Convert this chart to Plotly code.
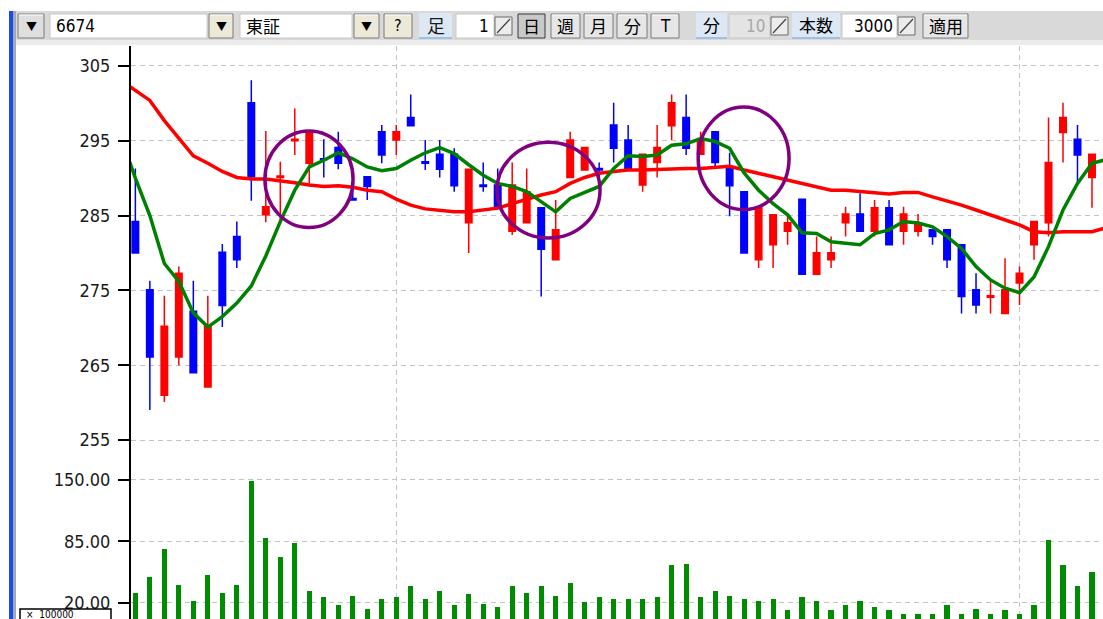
import plotly.graph_objects as go

# ---------------- data ----------------
opens = [284.2, 275.1, 261.0, 266.1, 272.2, 262.1, 280.1, 282.2, 300.1, 285.1,
         290.1, 295.0, 292.0, 292.6, 294.1, 287.3, 290.2, 296.2, 295.1, 298.1,
         292.2, 293.2, 293.2, 284.05, 289.1, 289.1, 282.9, 284.05, 286.05, 279.1,
         290.1, 291.1, 291.3, 297.1, 295.1, 289.1, 292.1, 297.0, 298.1, 293.2,
         296.2, 291.3, 288.2, 279.1, 281.1, 282.9, 287.2, 277.15, 279.1, 284.05,
         285.2, 282.9, 286.05, 282.9, 282.9, 283.1, 283.1, 281.1, 275.1, 274.1,
         271.9, 276.0, 281.1, 284.05, 296.1, 295.2, 290.1]
highs = [291.3, 276.3, 274.3, 278.2, 276.3, 274.3, 281.2, 284.2, 303.1, 296.3,
         292.2, 299.3, 296.2, 295.2, 296.2, 291.3, 290.2, 297.1, 297.1, 301.2,
         295.1, 295.1, 294.0, 291.2, 292.1, 291.3, 292.1, 291.3, 286.05, 287.1,
         296.2, 294.1, 292.1, 300.1, 297.1, 293.2, 297.1, 301.2, 301.2, 296.2,
         296.2, 293.4, 288.2, 286.05, 285.1, 285.1, 287.2, 282.2, 282.2, 286.2,
         288.0, 287.1, 287.1, 286.2, 285.2, 283.1, 283.1, 281.1, 277.3, 276.4,
         279.3, 278.2, 284.2, 298.1, 300.1, 297.1, 293.2]
lows = [280.0, 259.0, 260.1, 265.0, 264.0, 262.1, 270.1, 278.0, 287.0, 284.1,
        284.1, 293.1, 289.3, 290.1, 291.2, 287.0, 287.1, 292.0, 293.1, 297.0,
        291.1, 290.1, 288.2, 280.0, 288.2, 286.2, 282.4, 284.0, 274.2, 279.1,
        290.1, 291.1, 289.0, 292.1, 291.3, 288.2, 290.1, 295.1, 293.1, 293.2,
        291.6, 284.9, 280.0, 278.0, 278.0, 281.1, 277.15, 277.15, 278.0, 282.2,
        282.9, 282.2, 281.1, 281.1, 282.2, 281.1, 278.0, 271.9, 271.9, 271.9,
        271.9, 273.05, 279.1, 282.2, 292.1, 289.1, 286.05]
closes = [280.0, 266.1, 270.2, 277.3, 264.0, 270.2, 273.0, 279.1, 290.2, 286.2,
          290.3, 295.2, 296.2, 292.5, 292.0, 287.1, 288.9, 293.1, 296.2, 297.0,
          292.0, 291.2, 289.0, 291.2, 288.9, 286.2, 289.1, 288.2, 280.5, 283.1,
          295.1, 294.1, 291.1, 294.0, 291.3, 293.2, 294.1, 300.1, 294.0, 295.2,
          292.1, 289.0, 280.0, 286.05, 285.1, 284.05, 277.15, 280.05, 280.05, 285.2,
          282.9, 286.05, 281.1, 285.2, 284.05, 282.2, 279.1, 274.2, 273.05, 274.3,
          275.1, 277.3, 284.2, 292.1, 298.1, 293.1, 293.2]
volume = [30.6, 47.5, 76.9, 39.0, 22.1, 49.3, 30.6, 39.0, 148.6, 88.5,
          68.1, 83.6, 32.4, 25.7, 17.2, 27.1, 13.6, 23.9, 25.7, 37.3,
          23.9, 32.4, 17.2, 28.8, 18.9, 15.4, 37.3, 30.6, 37.3, 27.1,
          40.8, 20.4, 25.7, 23.9, 23.9, 23.9, 25.7, 59.6, 61.3, 25.7,
          32.4, 27.1, 23.9, 22.1, 23.9, 11.9, 25.7, 22.1, 11.9, 17.2,
          22.1, 15.4, 11.9, 8.3, 8.3, 8.3, 17.2, 8.3, 13.6, 8.3,
          11.9, 8.3, 17.2, 86.8, 59.6, 37.3, 52.8]
# moving averages, for sessions -1 .. 67 (the ends run off the visible area)
ma_short = [295.5, 290.0, 285.0, 278.6, 276.2, 272.0, 270.1, 271.5, 273.3, 275.6,
            279.6, 284.2, 288.4, 291.5, 292.4, 293.4, 292.6, 291.5, 291.0, 291.3,
            292.4, 293.4, 294.1, 293.3, 291.8, 290.4, 289.3, 288.9, 288.2, 286.9,
            285.5, 287.3, 288.1, 288.9, 291.3, 293.0, 292.9, 293.1, 294.4, 294.6,
            295.3, 294.9, 294.0, 290.7, 288.4, 286.6, 285.1, 282.7, 282.6, 281.5,
            281.3, 281.1, 282.6, 283.1, 284.2, 284.0, 283.5, 282.2, 280.6, 278.2,
            276.4, 275.3, 274.7, 276.8, 280.85, 285.75, 289.3, 292.0, 292.5]
ma_long = [303.1, 301.8, 300.4, 297.7, 295.4, 293.0, 292.0, 290.9, 290.1, 289.9,
           289.9, 289.7, 289.4, 289.1, 288.9, 289.0, 288.8, 288.4, 288.2, 287.2,
           286.4, 285.9, 285.7, 285.5, 285.5, 285.7, 286.0, 286.6, 287.2, 287.75,
           288.2, 289.3, 290.1, 290.65, 290.9, 291.1, 291.1, 291.2, 291.3, 291.3,
           291.3, 291.45, 291.6, 291.1, 290.65, 290.2, 289.75, 289.3, 288.9, 288.4,
           288.4, 288.2, 288.1, 287.9, 288.1, 288.1, 287.5, 287.0, 286.4, 285.75,
           285.1, 284.4, 283.75, 282.85, 282.7, 282.85, 282.85, 282.85, 283.4]
price_ticks = [255, 265, 275, 285, 295, 305]
volume_ticks = [20, 85, 150]
volume_tick_text = ["20.00", "85.00", "150.00"]
month_breaks = [18, 61]
# highlighted zones: (first session, last session, low price, high price)
circles = [(8.94, 15.02, 283.4, 296.3),
           (24.95, 32.06, 282.0, 294.8),
           (38.83, 45.10, 285.8, 299.5)]

sessions = list(range(len(opens)))
ma_sessions = list(range(-1, len(opens) + 1))

# ---------------- geometry ----------------
W, H = 1103, 619
ML, MT = 131, 46
PW, PH = W - ML, H - MT


def px(x):
    return (x - ML) / PW


def py(y):
    return (H - y) / PH


split = py(458)
NARROW = "Liberation Sans Narrow, DejaVu Sans Condensed, Arial Narrow, sans-serif"

fig = go.Figure()
fig.add_trace(go.Candlestick(
    x=sessions, open=opens, high=highs, low=lows, close=closes,
    increasing=dict(line=dict(color="#ff0000", width=1.5), fillcolor="#ff0000"),
    decreasing=dict(line=dict(color="#0000ff", width=1.5), fillcolor="#0000ff"),
    whiskerwidth=0, xaxis="x", yaxis="y", hoverinfo="skip"))
fig.add_trace(go.Scatter(x=ma_sessions, y=ma_long, mode="lines",
                         line=dict(color="#ff0000", width=3.5),
                         xaxis="x", yaxis="y", hoverinfo="skip"))
fig.add_trace(go.Scatter(x=ma_sessions, y=ma_short, mode="lines",
                         line=dict(color="#008000", width=3.5),
                         xaxis="x", yaxis="y", hoverinfo="skip"))
fig.add_trace(go.Bar(x=sessions, y=volume, width=0.36,
                     marker=dict(color="#008c00", line=dict(width=0)),
                     xaxis="x2", yaxis="y2", hoverinfo="skip"))

tickfont = dict(family=NARROW, size=18, color="#1a1a1a")
grid = dict(showgrid=True, gridcolor="#c4c4c4", gridwidth=1.2, griddash="5px,4px")
xr = [-0.30, 66.76]

fig.update_layout(
    width=W, height=H, margin=dict(l=ML, r=0, t=MT, b=0),
    paper_bgcolor="white", plot_bgcolor="white", showlegend=False,
    boxgap=0.36, bargap=0,
    xaxis=dict(domain=[0, 1], anchor="y", range=xr, tickvals=month_breaks,
               showticklabels=False, ticks="", zeroline=False, showline=False,
               rangeslider=dict(visible=False), **grid),
    xaxis2=dict(domain=[0, 1], anchor="y2", range=xr, tickvals=month_breaks,
                showticklabels=False, ticks="", zeroline=False, showline=False,
                matches="x", **grid),
    yaxis=dict(domain=[split, 1], range=[252.6, 307.67], tickvals=price_ticks,
               ticks="outside", ticklen=11, tickwidth=2, tickcolor="#000",
               showline=True, linecolor="#000", linewidth=2, zeroline=False,
               tickfont=tickfont, ticklabelstandoff=4, **grid),
    yaxis2=dict(domain=[0, split], range=[2.7, 173.3], tickvals=volume_ticks,
                ticktext=volume_tick_text,
                ticks="outside", ticklen=11, tickwidth=2, tickcolor="#000",
                showline=True, linecolor="#000", linewidth=2, zeroline=False,
                tickfont=tickfont, ticklabelstandoff=4, **grid),
)

shapes = []
annots = []

for (x0, x1, y0, y1) in circles:
    shapes.append(dict(type="circle", xref="x", yref="y", x0=x0, x1=x1, y0=y0, y1=y1,
                       line=dict(color="#800080", width=3.5)))


def rect(x0, y0, x1, y1, fill, line=None, lw=1):
    shapes.append(dict(type="rect", xref="paper", yref="paper",
                       x0=px(x0), x1=px(x1), y0=py(y1), y1=py(y0),
                       fillcolor=fill, layer="above",
                       line=dict(color=line or fill, width=lw if line else 0)))


def text(x, y, s, size=16, color="#000", family="Noto Sans CJK JP", anchor="center"):
    annots.append(dict(xref="paper", yref="paper", x=px(x), y=py(y), text=s,
                       showarrow=False, xanchor=anchor, yanchor="middle",
                       font=dict(size=size, color=color, family=family)))


def button(x0, x1, label, face="#e6e6e6", size=17, pressed=False, family="Noto Sans CJK JP"):
    rect(x0, 14, x1, 38, face, "#7a7a7a" if not pressed else "#3a3a3a", 1)
    if not pressed:
        rect(x0 + 1, 14.5, x1 - 1, 15.5, "#ffffff")
    text((x0 + x1) / 2, 26, label, size=size, family=family)


def spin(x0, x1, y0=17, y1=35):
    rect(x0, y0, x1, y1, "#ececec", "#6a6a6a", 1)
    shapes.append(dict(type="line", xref="paper", yref="paper",
                       x0=px(x0 + 2), y0=py(y1 - 2), x1=px(x1 - 2), y1=py(y0 + 2),
                       line=dict(color="#404040", width=1.2), layer="above"))


# window chrome
rect(16, 11, W, 40, "#d9d9d9")
rect(16, 40, W, 45, "#ececec")
rect(9, 11, 13.5, H, "#1d4de0")
rect(14, 11, 16, H, "#a8a8a8")

# toolbar
button(18, 44, "▼", face="#dedede", size=11)
rect(50, 14, 207, 38, "#ffffff", "#c8c8c8", 1)
text(54, 26, "6674", size=17, family=NARROW, anchor="left")
button(209, 233, "▼", face="#ece9d8", size=11)
rect(240, 14, 352, 38, "#ffffff", "#c8c8c8", 1)
text(244, 26, "東証", size=17, anchor="left")
button(354, 379, "▼", face="#ece9d8", size=11)
button(384, 412, "?", face="#ece9d8", size=16, family=NARROW)
rect(419, 13, 452, 39, "#dde8f4")
rect(419, 37, 452, 39, "#9cc0e6")
text(435.5, 25, "足", size=18, color="#1a1a1a")
rect(456, 14, 494, 38, "#ffffff", "#c8c8c8", 1)
text(491, 26, "1", size=17, family=NARROW, anchor="right")
spin(495, 512)
button(518, 545, "日", face="#c9c9c9", pressed=True)
button(551, 580, "週")
button(584, 613, "月")
button(617, 647, "分")
button(651, 679, "T", size=17, family=NARROW)
rect(696, 13, 727, 39, "#dde8f4")
rect(696, 37, 727, 39, "#9cc0e6")
text(711.5, 25, "分", size=17)
rect(729, 14, 770, 38, "#e4e4e4", "#c8c8c8", 1)
text(767, 26, "10", size=17, color="#a8a8a8", family=NARROW, anchor="right")
spin(771, 788)
rect(792, 13, 840, 39, "#dde8f4")
rect(792, 37, 840, 39, "#9cc0e6")
text(816, 25, "本数", size=17)
rect(842, 14, 897, 38, "#ffffff", "#c8c8c8", 1)
text(895, 26, "3000", size=17, family=NARROW, anchor="right")
spin(898, 915)
button(923, 968, "適用")

# unit box at the lower left
rect(20, 609, 111, 625, "#ffffff", "#000000", 1.5)
text(24, 614.5, "×  100000", size=10, family=NARROW, anchor="left")

fig.update_layout(shapes=shapes, annotations=annots)

fig.write_html("out.html", config={"displayModeBar": False},
               post_script="document.body.style.margin='0';")
